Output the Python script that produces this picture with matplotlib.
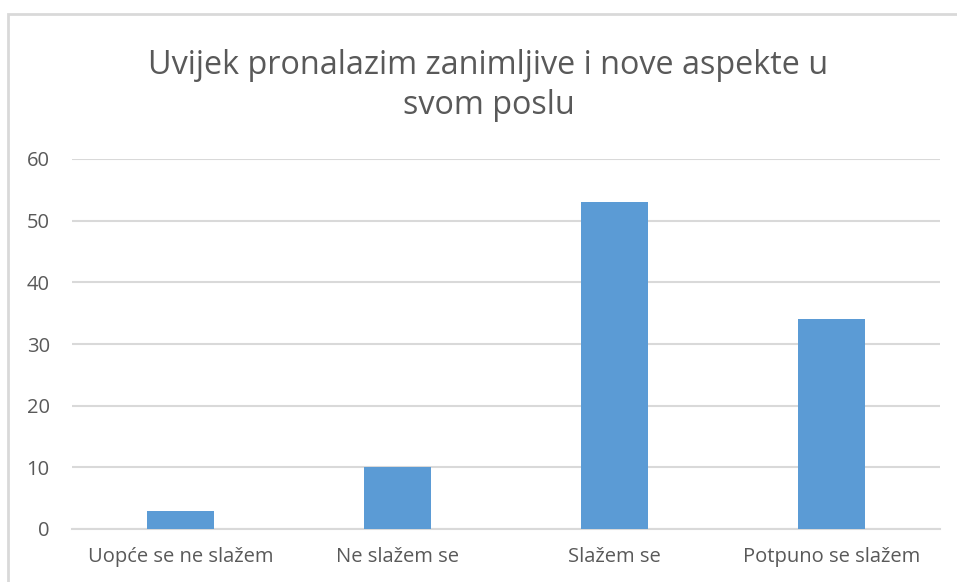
import matplotlib.pyplot as plt
from matplotlib.patches import Rectangle

# podaci
kategorije = ['Uopće se ne slažem', 'Ne slažem se', 'Slažem se', 'Potpuno se slažem']
vrijednosti = [3, 10, 53, 34]
oznake_y = [0, 10, 20, 30, 40, 50, 60]
naslov = 'Uvijek pronalazim zanimljive i nove aspekte u\nsvom poslu'

plt.rcParams['font.family'] = ['Open Sans', 'DejaVu Sans']

fig = plt.figure(figsize=(9.57, 5.82), dpi=100)
ax = fig.add_axes([72/957, 1 - 529/582, 868/957, (529 - 159)/582])

# okvir grafikona
fig.patches.append(Rectangle((8/957, -0.1), 1.2, 1 - 14/582 + 0.1,
                             transform=fig.transFigure, fill=False,
                             edgecolor='#D9D9D9', linewidth=2))

x = range(len(kategorije))
ax.bar(x, vrijednosti, width=0.31, color='#5B9BD5', zorder=3)

ax.set_xlim(-0.5, len(kategorije) - 0.5)
ax.set_ylim(0, 60)
ax.set_yticks(oznake_y)
ax.set_xticks(list(x))
ax.set_xticklabels(kategorije)
ax.yaxis.grid(True, color='#D9D9D9', linewidth=1.5)
ax.set_axisbelow(True)
for s in ax.spines.values():
    s.set_visible(False)
ax.spines['bottom'].set_visible(True)
ax.spines['bottom'].set_color('#D9D9D9')
ax.spines['bottom'].set_linewidth(1.5)
ax.tick_params(length=0, labelsize=14.5, colors='#595959')
ax.tick_params(axis='x', pad=13)
ax.tick_params(axis='y', pad=16)

fig.text(488.5 / 957, 1 - 85.5/582, naslov, ha='center', va='center',
         fontsize=23.3, color='#595959', linespacing=1.32)

fig.savefig('out.png', dpi=100)
